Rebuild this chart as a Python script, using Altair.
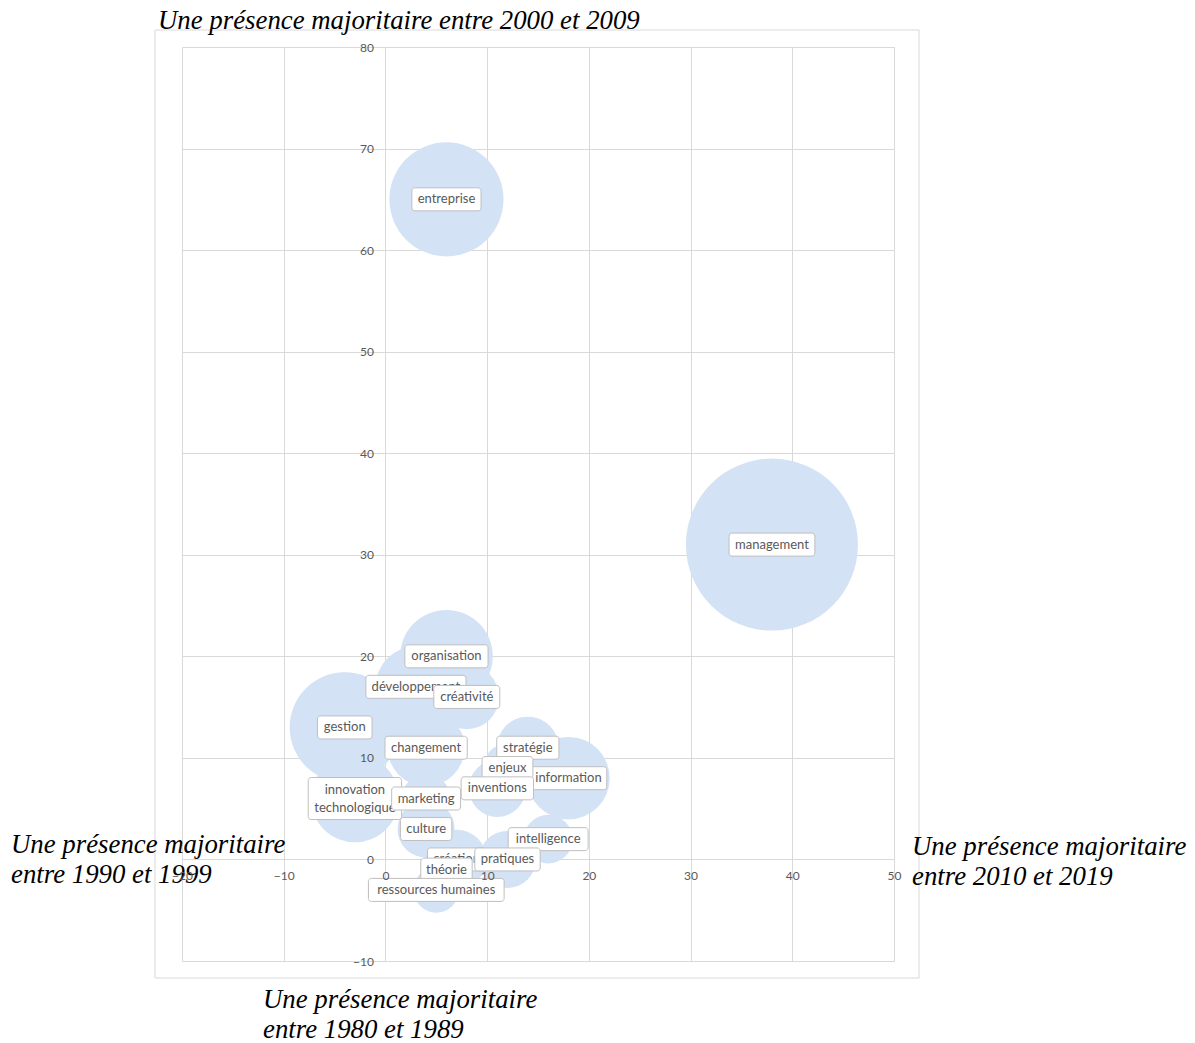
import math
import altair as alt
import pandas as pd

# ---- data ----
labels = ["gestion", "organisation", "développement", "créativité", "changement",
          "stratégie", "information", "enjeux", "inventions",
          "innovation\ntechnologique", "marketing", "culture", "intelligence",
          "création", "pratiques", "théorie", "ressources humaines",
          "entreprise", "management"]
x_vals = [-4, 6, 3, 8, 4, 14, 18, 12, 11, -3, 4, 4, 16, 7, 12, 6, 5, 6, 38]
y_vals = [13, 20, 17, 16, 11, 11, 8, 9, 7, 6, 6, 3, 2, 0, 0, -1, -3, 65, 31]
sizes = [41, 29, 22, 14, 20, 13, 23, 8, 11, 26, 8, 11, 8, 12, 11, 8, 7, 44, 100]

x_ticks = [-20, -10, 0, 10, 20, 30, 40, 50]
y_ticks = [-10, 0, 10, 20, 30, 40, 50, 60, 70, 80]

title_top = "Une présence majoritaire entre 2000 et 2009"
title_left = ["Une présence majoritaire", "entre 1990 et 1999"]
title_right = ["Une présence majoritaire", "entre 2010 et 2019"]
title_bottom = ["Une présence majoritaire", "entre 1980 et 1989"]

# ---- layout ----
W, H = 712, 914
XMIN, XMAX = x_ticks[0], x_ticks[-1]
YMIN, YMAX = y_ticks[0], y_ticks[-1]
PXX = W / (XMAX - XMIN)
PXY = H / (YMAX - YMIN)
MAX_R = 86
LH = 18

df = pd.DataFrame({"label": labels, "x": x_vals, "y": y_vals,
                   "size": sizes, "idx": list(range(len(labels)))})

xscale = alt.Scale(domain=[XMIN, XMAX], nice=False, zero=False)
yscale = alt.Scale(domain=[YMIN, YMAX], nice=False, zero=False)

AX_FONT = "Lato"
AX_COLOR = "#595959"

grid_x = alt.Axis(values=x_ticks, grid=True, gridColor="#d9d9d9", gridWidth=1,
                  labels=False, ticks=False, domain=False, title=None, zindex=0)
grid_y = alt.Axis(values=y_ticks, grid=True, gridColor="#d9d9d9", gridWidth=1,
                  labels=False, ticks=False, domain=False, title=None, zindex=0)

lab_x = alt.Axis(values=x_ticks, grid=False, ticks=False, domain=False, title=None,
                 orient="bottom", offset=-(0 - YMIN) * PXY, labelPadding=11,
                 labelFont=AX_FONT, labelFontSize=12, labelColor=AX_COLOR,
                 labelFlush=False, labelOverlap=False, labelBound=False, zindex=1)
lab_y = alt.Axis(values=y_ticks, grid=False, ticks=False, domain=False, title=None,
                 orient="left", offset=-(0 - XMIN) * PXX, labelPadding=12,
                 labelFont=AX_FONT, labelFontSize=12, labelColor=AX_COLOR,
                 labelFlush=False, labelOverlap=False, labelBound=False, zindex=1)

# Vega circle size = area of bounding square -> (2r)^2
bubbles = alt.Chart(df).mark_circle(opacity=1, color="#d3e2f4", strokeWidth=0).encode(
    x=alt.X("x:Q", scale=xscale, axis=grid_x),
    y=alt.Y("y:Q", scale=yscale, axis=grid_y),
    size=alt.Size("size:Q", legend=None,
                  scale=alt.Scale(domain=[0, 100], range=[0, (2 * MAX_R) ** 2])),
)


def textw(f):
    s = f"datum.{f}"
    narrow = f"(length({s}) - length(replace({s}, regexp('[iltfjr ]','g'), '')))"
    wide = f"(length({s}) - length(replace({s}, regexp('[mw]','g'), '')))"
    return f"(7*length({s}) - 3.2*{narrow} + 3.5*{wide})"


base = alt.Chart(df).transform_calculate(
    parts="split(datum.label, '\\n')"
).transform_calculate(
    l1="datum.parts[0]",
    l2="length(datum.parts) > 1 ? datum.parts[1] : ''",
    nl="length(datum.parts)",
).transform_calculate(
    boxw=f"max({textw('l1')}, {textw('l2')}) + 12",
    boxh="datum.nl * 19 + 4",
).transform_calculate(
    x1=f"datum.x - datum.boxw / 2 / {PXX}",
    x2=f"datum.x + datum.boxw / 2 / {PXX}",
    y1=f"datum.y - datum.boxh / 2 / {PXY}",
    y2=f"datum.y + datum.boxh / 2 / {PXY}",
    ty=f"datum.y + (datum.nl - 1) * {LH} / 2 / {PXY}",
)

box = base.mark_rect(fill="white", stroke="#bfbfbf", strokeWidth=1, cornerRadius=3).encode(
    x=alt.X("x1:Q", scale=xscale, axis=lab_x), x2="x2:Q",
    y=alt.Y("y1:Q", scale=yscale, axis=lab_y), y2="y2:Q",
)
txt = base.mark_text(font="Lato", fontSize=13, color="#595959", lineBreak="\n",
                     lineHeight=LH, align="center", baseline="middle").encode(
    x=alt.X("x:Q", scale=xscale, axis=lab_x),
    y=alt.Y("ty:Q", scale=yscale, axis=lab_y),
    text="label:N",
)

label_layers = []
for i in range(len(labels)):
    label_layers.append(box.transform_filter(alt.datum.idx == i))
    label_layers.append(txt.transform_filter(alt.datum.idx == i))
overlay = alt.layer(*label_layers)

one = alt.Data(values=[{}])
border = alt.Chart(one).mark_rect(fill="transparent", stroke="#d9d9d9", strokeWidth=1).encode(
    x=alt.value(-27), x2=alt.value(737), y=alt.value(-17), y2=alt.value(931))

serif = dict(font="Liberation Serif", fontStyle="italic", fontSize=26.8, color="#000000",
             align="left", baseline="alphabetic", lineHeight=30)
t_top = alt.Chart(one).mark_text(text=title_top, **serif).encode(
    x=alt.value(-24), y=alt.value(-18))
t_left = alt.Chart(one).mark_text(text=title_left, **serif).encode(
    x=alt.value(-171), y=alt.value(806))
t_right = alt.Chart(one).mark_text(text=title_right, **serif).encode(
    x=alt.value(730), y=alt.value(808))
t_bottom = alt.Chart(one).mark_text(text=title_bottom, **serif).encode(
    x=alt.value(81), y=alt.value(961))

chart = alt.layer(border, bubbles, overlay, t_top, t_left, t_right, t_bottom).resolve_axis(
    x="independent", y="independent"
).properties(
    width=W, height=H,
    autosize=alt.AutoSizeParams(type="none"),
    padding={"left": 174, "top": 39, "right": 293, "bottom": 84},
    background="white",
).configure_view(strokeWidth=0)

chart.save("out.html", embed_options={"renderer": "svg", "actions": False})
